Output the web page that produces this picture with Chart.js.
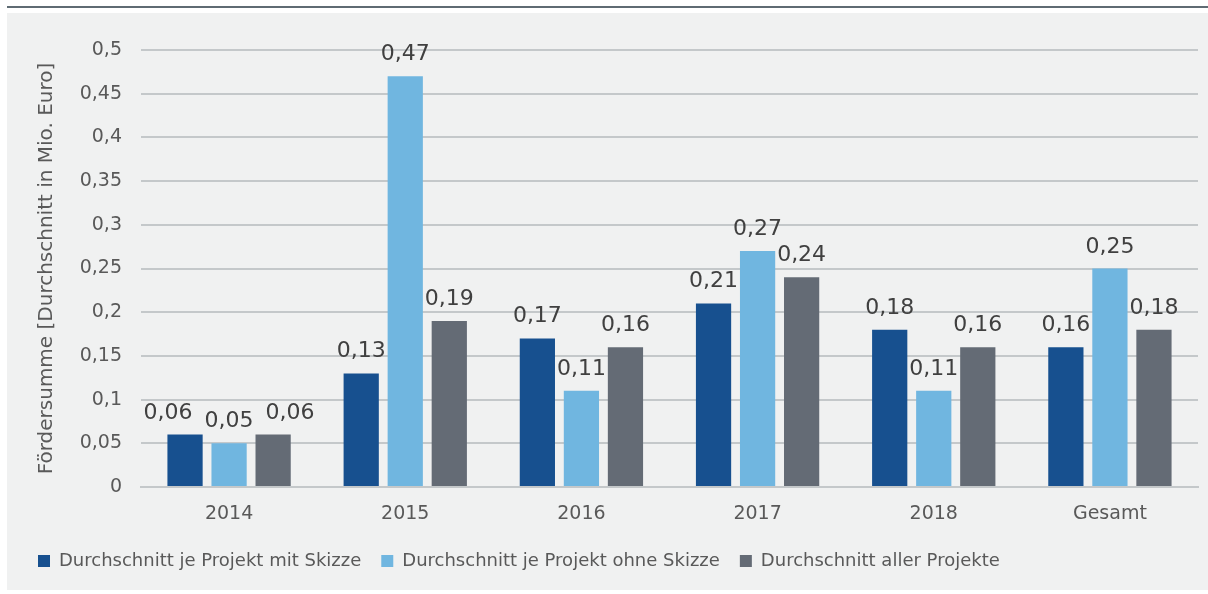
<!DOCTYPE html>
<html>
<head>
<meta charset="utf-8">
<script src="https://cdn.jsdelivr.net/npm/chart.js@4.4.1/dist/chart.umd.min.js"></script>
<style>
  body { margin: 0; background: #ffffff; }
  #topline { position: absolute; left: 7px; top: 6px; width: 1201px; height: 2px; background: #5f6b73; }
  #panel { position: absolute; left: 7px; top: 13px; width: 1201px; height: 577px; background: #f0f1f1; }
  #wrap { position: absolute; left: 0; top: 0; width: 1208px; height: 594px; }
</style>
</head>
<body>
<div id="topline"></div>
<div id="panel"></div>
<div id="wrap"><canvas id="chart" width="1208" height="594"></canvas></div>
<script>
// Werte
const categories = ["2014", "2015", "2016", "2017", "2018", "Gesamt"];
const mitSkizze = [0.06, 0.13, 0.17, 0.21, 0.18, 0.16];
const ohneSkizze = [0.05, 0.47, 0.11, 0.27, 0.11, 0.25];
const allerProjekte = [0.06, 0.19, 0.16, 0.24, 0.16, 0.18];
const yTickLabels = ["0", "0,05", "0,1", "0,15", "0,2", "0,25", "0,3", "0,35", "0,4", "0,45", "0,5"];

const textColor = "#595959";
const fontFamily = "'DejaVu Sans', sans-serif";

function fmt(v) {
  return Number(v.toFixed(2)).toString().replace(".", ",");
}

// eigene Wertebeschriftung ueber den Balken, ueberlappende Labels werden auseinander geschoben
const valueLabels = {
  id: "valueLabels",
  afterDatasetsDraw(chart) {
    const ctx = chart.ctx;
    ctx.save();
    ctx.font = "22px " + fontFamily;
    ctx.fillStyle = "#404040";
    ctx.textAlign = "center";
    ctx.textBaseline = "alphabetic";
    const n = chart.data.labels.length;
    for (let j = 0; j < n; j++) {
      const items = chart.data.datasets.map((ds, i) => {
        const bar = chart.getDatasetMeta(i).data[j];
        const txt = fmt(ds.data[j]);
        return { txt: txt, x: bar.x, y: bar.y - 16, w: ctx.measureText(txt).width };
      });
      for (let it = 0; it < 30; it++) {
        for (let k = 1; k < items.length; k++) {
          const a = items[k - 1], b = items[k];
          const need = (a.w + b.w) / 2 + 12;
          if (Math.abs(a.y - b.y) < 22 && b.x - a.x < need) {
            const push = (need - (b.x - a.x)) / 2;
            a.x -= push;
            b.x += push;
          }
        }
      }
      items.forEach(o => ctx.fillText(o.txt, o.x, o.y));
    }
    ctx.restore();
  }
};

new Chart(document.getElementById("chart"), {
  type: "bar",
  data: {
    labels: categories,
    datasets: [
      { label: "Durchschnitt je Projekt mit Skizze", data: mitSkizze, backgroundColor: "#17508f" },
      { label: "Durchschnitt je Projekt ohne Skizze", data: ohneSkizze, backgroundColor: "#70b6e0" },
      { label: "Durchschnitt aller Projekte", data: allerProjekte, backgroundColor: "#646b75" }
    ]
  },
  options: {
    responsive: false,
    animation: false,
    events: [],
    datasets: { bar: { barPercentage: 0.8, categoryPercentage: 0.75 } },
    layout: { padding: { left: 18, right: 10, top: 50, bottom: 14 } },
    plugins: {
      legend: {
        position: "bottom",
        align: "start",
        labels: {
          boxWidth: 12,
          boxHeight: 12,
          padding: 20,
          color: textColor,
          font: { family: fontFamily, size: 18 }
        }
      },
      tooltip: { enabled: false }
    },
    scales: {
      x: {
        afterFit: (s) => { s.height = 45; },
        grid: { display: false, drawTicks: false },
        border: { color: "#c4c8ca", width: 2 },
        ticks: { color: textColor, padding: 16, font: { family: fontFamily, size: 19 } }
      },
      y: {
        min: 0,
        max: 0.5,
        afterFit: (s) => { s.width = 123; },
        grid: { color: "#c4c8ca", lineWidth: 2, drawTicks: false },
        border: { display: false },
        ticks: {
          stepSize: 0.05,
          padding: 19,
          color: textColor,
          font: { family: fontFamily, size: 19 },
          callback: (v, i) => yTickLabels[i]
        },
        title: {
          display: true,
          text: "Fördersumme [Durchschnitt in Mio. Euro]",
          color: textColor,
          font: { family: fontFamily, size: 20 },
          padding: { top: 17, bottom: 0 }
        }
      }
    }
  },
  plugins: [valueLabels]
});
</script>
</body>
</html>
